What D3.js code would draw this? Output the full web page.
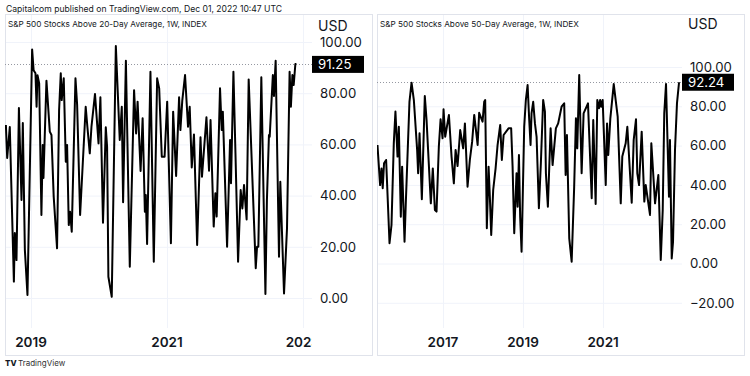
<!DOCTYPE html>
<html><head><meta charset="utf-8">
<script src="https://cdn.jsdelivr.net/npm/d3@7"></script>
<style>
body{margin:0;background:#fff;}
svg{display:block;font-family:Inter,"Noto Sans",sans-serif;}
</style>
</head><body>
<svg id="c" width="750" height="376"></svg>
<script>
// ---------- DATA ----------
const leftTitle = "S&P 500 Stocks Above 20-Day Average, 1W, INDEX";
const rightTitle = "S&P 500 Stocks Above 50-Day Average, 1W, INDEX";
const headerText = "Capitalcom published on TradingView.com, Dec 01, 2022 10:47 UTC";
const currencyLabel = "USD";

const leftDates = ["2018-08-19","2018-08-26","2018-09-09","2018-10-01","2018-10-06","2018-10-15","2018-10-28","2018-11-11","2018-11-18","2018-11-29","2018-12-13",
"2019-01-07","2019-01-15","2019-01-25","2019-01-31","2019-02-05","2019-02-14","2019-02-26","2019-03-05","2019-03-09","2019-03-25","2019-04-12","2019-04-21","2019-05-03","2019-05-21","2019-06-01","2019-06-10","2019-06-15","2019-06-26","2019-07-07","2019-07-14","2019-07-23","2019-07-30","2019-08-08","2019-08-28","2019-09-06","2019-09-22","2019-10-22","2019-10-31","2019-11-13","2019-11-22","2019-12-11","2019-12-30",
"2020-01-09","2020-01-23","2020-02-07","2020-02-14","2020-02-21","2020-03-10","2020-04-01","2020-04-22","2020-05-03","2020-05-10","2020-05-25","2020-06-15","2020-07-08","2020-07-19","2020-07-27","2020-08-12","2020-08-23","2020-09-04","2020-09-09","2020-09-16","2020-10-04","2020-10-22","2020-11-09","2020-11-20","2020-12-04","2020-12-19",
"2021-01-02","2021-01-22","2021-02-03","2021-02-19","2021-03-07","2021-03-14","2021-03-24","2021-04-08","2021-04-24","2021-05-03","2021-05-14","2021-05-26","2021-06-12","2021-06-30","2021-07-08","2021-08-01","2021-08-15","2021-08-23","2021-09-09","2021-09-18","2021-09-25","2021-10-13","2021-10-22","2021-10-28","2021-11-20","2021-12-06","2021-12-11","2021-12-24",
"2022-01-04","2022-01-18","2022-02-01","2022-02-10","2022-02-19","2022-03-05","2022-03-16","2022-04-23","2022-04-30","2022-05-07","2022-05-23","2022-06-14","2022-06-22","2022-07-03","2022-07-07","2022-07-24","2022-07-30","2022-08-08","2022-08-26","2022-09-02","2022-09-22","2022-10-08","2022-10-22","2022-10-29","2022-11-06","2022-11-13","2022-11-22","2022-11-27"];
const leftValues = [67.6,54.7,66.8,6.4,25.4,14.8,74.2,38.3,68.4,18.8,1.2,
97.1,89.0,87.8,74.7,87.0,83.8,32.4,59.8,46.9,84.9,65.0,63.7,39.6,19.4,73.4,87.8,77.3,85.8,53.2,59.8,28.5,33.7,25.9,85.8,75.4,32.4,74.7,66.9,56.5,66.9,79.7,60.4,
78.4,29.4,66.7,59.1,8.3,0.5,98.4,61.7,74.7,37.4,92.7,12.2,81.2,64.3,76.7,49.6,70.2,33.7,40.2,21.1,88.4,14.2,85.8,81.9,55.2,55.2,
76.7,21.4,72.8,47.7,78.4,65.6,77.0,87.1,66.9,74.7,51.0,63.9,20.7,62.8,47.4,70.6,49.7,69.5,27.9,40.9,31.8,81.9,65.6,72.8,20.0,61.7,44.8,88.4,
56.5,14.2,42.2,35.0,44.1,30.7,85.4,11.6,20.0,20.0,86.2,1.6,38.3,63.7,63.0,87.1,78.9,92.7,16.1,45.4,1.8,27.2,88.4,74.7,87.1,83.2,91.4,91.25];

const rightDates = ["2015-05-14","2015-06-07","2015-06-20","2015-07-01","2015-07-13","2015-08-01","2015-09-01","2015-09-19","2015-10-10","2015-10-25","2015-11-13","2015-11-25","2015-12-13","2015-12-25",
"2016-01-16","2016-01-27","2016-03-01","2016-03-20","2016-04-10","2016-05-10","2016-05-19","2016-06-01","2016-06-22","2016-07-19","2016-08-04","2016-09-12","2016-09-30","2016-10-19","2016-11-03","2016-11-24","2016-12-10","2016-12-28",
"2017-01-06","2017-01-21","2017-02-24","2017-03-20","2017-04-10","2017-04-26","2017-05-14","2017-06-07","2017-07-04","2017-07-20","2017-08-13","2017-09-03","2017-09-24","2017-10-13","2017-11-13","2017-11-27","2017-12-28",
"2018-01-12","2018-01-21","2018-02-05","2018-02-21","2018-03-05","2018-03-17","2018-04-04","2018-04-26","2018-05-14","2018-06-07","2018-06-22","2018-07-08","2018-08-22","2018-09-15","2018-09-28","2018-10-13","2018-11-03","2018-11-13","2018-11-25","2018-12-06","2018-12-19",
"2019-01-12","2019-01-27","2019-02-12","2019-02-26","2019-03-11","2019-03-20","2019-04-04","2019-04-20","2019-05-05","2019-05-26","2019-06-13","2019-07-04","2019-07-20","2019-07-29","2019-08-16","2019-09-10","2019-09-28","2019-10-28","2019-11-18","2019-12-19",
"2020-01-12","2020-01-25","2020-02-06","2020-02-27","2020-03-20","2020-04-12","2020-04-28","2020-05-10","2020-05-28","2020-06-19","2020-07-07","2020-08-16","2020-09-19","2020-10-03","2020-10-25","2020-11-09","2020-11-24","2020-12-05","2020-12-14","2020-12-28",
"2021-01-25","2021-02-06","2021-02-17","2021-03-08","2021-04-08","2021-05-14","2021-06-11","2021-06-25","2021-07-26","2021-08-10","2021-09-19","2021-10-07","2021-10-28","2021-11-09","2021-11-25","2021-12-19",
"2022-01-12","2022-01-25","2022-03-05","2022-03-17","2022-04-20","2022-05-20","2022-06-11","2022-06-29","2022-07-13","2022-07-29","2022-08-25","2022-09-03","2022-09-19","2022-10-01","2022-10-19","2022-11-06","2022-11-25"];
const rightValues = [60.3,39.9,48.4,38.3,51.0,52.7,10.3,19.6,61.2,77.3,54.4,69.6,23.8,49.3,
11.1,29.8,82.3,92.0,83.2,57.8,45.9,66.3,32.7,85.2,73.0,30.6,48.4,27.2,26.4,59.4,73.4,63.7,
78.5,64.5,75.6,54.4,40.8,57.8,49.6,67.9,58.6,71.3,39.1,52.7,62.0,75.6,60.3,76.7,72.2,
82.3,83.2,17.9,49.3,33.2,14.5,37.4,48.4,60.3,70.5,52.7,65.4,68.8,68.8,49.3,15.4,45.9,28.9,55.2,23.8,6.0,
69.6,83.2,90.8,73.9,60.3,76.4,82.3,71.3,64.5,28.1,51.0,83.2,77.3,45.9,28.9,68.8,50.1,68.8,71.3,79.8,
81.5,45.0,65.4,12.8,0.9,39.1,73.9,58.6,95.9,45.9,76.4,81.5,33.2,73.0,30.3,83.2,79.0,83.2,79.8,83.2,
39.9,71.3,55.2,73.9,91.3,74.7,30.6,54.4,61.2,69.6,30.9,62.8,73.4,45.9,39.9,67.1,
31.5,39.9,24.7,61.2,30.6,45.0,1.8,27.2,76.4,91.3,34.0,62.8,2.6,11.1,57.8,81.5,92.24];

const leftYearTicks = ["2019","2021","2023"];
const rightYearTicks = ["2017","2019","2021"];
const leftPriceTicks = [0,20,40,60,80,100];
const rightPriceTicks = [-20,0,20,40,60,80,100];

// ---------- LAYOUT ----------
const svg = d3.select("#c");
const parse = d3.timeParse("%Y-%m-%d");
const COL = {frame:"#e0e3eb", grid:"#f0f3fa", text:"#131722", line:"#000000", dot:"#9598a1"};

svg.append("text").attr("x",6).attr("y",12).attr("font-size",8.6).attr("fill",COL.text).text(headerText);

const panels = [
  {id:"L", frame:[5,14,373,356], plot:[5,14,312,328],
   xRef:[["2019-01-01",31],["2021-01-01",167]], yRef:[[0,298],[100,42]],
   dates:leftDates, values:leftValues, years:leftYearTicks, prices:leftPriceTicks,
   title:leftTitle, usdY:31},
  {id:"R", frame:[377,14,745,356], plot:[377,14,682,328],
   xRef:[["2017-01-01",443],["2019-01-01",523]], yRef:[[0,263.5],[100,67]],
   dates:rightDates, values:rightValues, years:rightYearTicks, prices:rightPriceTicks,
   title:rightTitle, usdY:29}
];

panels.forEach(p => {
  const [fx0,fy0,fx1,fy1] = p.frame;
  const [px0,py0,px1,py1] = p.plot;
  const x = d3.scaleTime().domain(p.xRef.map(d=>parse(d[0]))).range(p.xRef.map(d=>d[1]));
  const y = d3.scaleLinear().domain(p.yRef.map(d=>d[0])).range(p.yRef.map(d=>d[1]));
  const g = svg.append("g");

  const defs = svg.append("defs");
  defs.append("clipPath").attr("id","plot"+p.id).append("rect")
    .attr("x",px0).attr("y",py0).attr("width",px1-px0).attr("height",py1-py0);
  defs.append("clipPath").attr("id","time"+p.id).append("rect")
    .attr("x",px0).attr("y",py1).attr("width",px1-px0).attr("height",fy1-py1);

  // grid
  g.append("g").selectAll("line").data(p.prices).join("line")
    .attr("x1",px0).attr("x2",px1).attr("y1",d=>y(d)+0.5).attr("y2",d=>y(d)+0.5)
    .attr("stroke",COL.grid).attr("stroke-width",1);
  g.append("g").selectAll("line").data(p.years).join("line")
    .attr("x1",d=>Math.round(x(parse(d+"-01-01")))+0.5).attr("x2",d=>Math.round(x(parse(d+"-01-01")))+0.5)
    .attr("y1",py0).attr("y2",py1).attr("stroke",COL.grid).attr("stroke-width",1);

  // frame
  g.append("rect").attr("x",fx0+0.5).attr("y",fy0+0.5).attr("width",fx1-fx0-1).attr("height",fy1-fy0-1)
    .attr("fill","none").attr("stroke",COL.frame).attr("stroke-width",1);

  // title
  g.append("text").attr("x",px0+3).attr("y",27).attr("font-size",8.2).attr("fill",COL.text).text(p.title);

  const data = p.dates.map((d,i)=>({date:parse(d), v:p.values[i]}));
  const last = data[data.length-1];

  // dotted last-value line
  g.append("line").attr("x1",px0).attr("x2",px1).attr("y1",Math.round(y(last.v))+0.5).attr("y2",Math.round(y(last.v))+0.5)
    .attr("stroke",COL.dot).attr("stroke-width",1).attr("stroke-dasharray","1,2");

  // line
  g.append("path").datum(data).attr("clip-path",`url(#plot${p.id})`)
    .attr("d", d3.line().x(d=>x(d.date)).y(d=>y(d.v)))
    .attr("fill","none").attr("stroke",COL.line).attr("stroke-width",2).attr("stroke-linejoin","round");

  // price axis labels
  g.append("g").selectAll("text").data(p.prices).join("text")
    .attr("x",px1+8).attr("y",d=>y(d)).attr("dy","0.36em").attr("font-size",13.2).attr("fill",COL.text)
    .text(d=>d3.format(".2f")(d).replace("-","\u2212"));

  // last value tag
  const ly = y(last.v);
  g.append("rect").attr("x",px1).attr("y",ly-8.5).attr("width",52).attr("height",17).attr("fill","#000");
  g.append("text").attr("x",px1+6).attr("y",ly).attr("dy","0.36em").attr("font-size",13.2).attr("fill","#fff")
    .text(d3.format(".2f")(last.v));

  // USD
  g.append("text").attr("x",px1+6).attr("y",p.usdY).attr("font-size",14).attr("fill",COL.text).text(currencyLabel);

  // time axis
  g.append("g").attr("clip-path",`url(#time${p.id})`).selectAll("text").data(p.years).join("text")
    .attr("x",d=>x(parse(d+"-01-01"))).attr("y",347).attr("text-anchor","middle")
    .attr("font-size",13.5).attr("font-weight",600).attr("fill",COL.text).text(d=>d);
});

// TradingView footer
svg.append("text").attr("x",5).attr("y",366).attr("font-size",8).attr("font-weight",800).attr("fill",COL.text).text("TV");
svg.append("text").attr("x",18).attr("y",366).attr("font-size",8).attr("fill","#333").text("TradingView");
</script>
</body></html>
